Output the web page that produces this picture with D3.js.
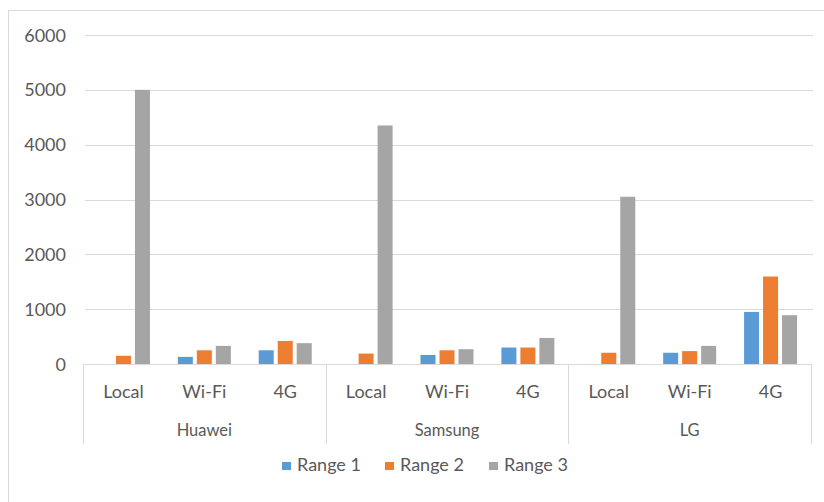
<!DOCTYPE html>
<html>
<head>
<meta charset="utf-8">
<script src="https://cdn.jsdelivr.net/npm/d3@7.9.0/dist/d3.min.js"></script>
<style>
  body { margin: 0; background: #fff; }
  text { font-family: Lato, "Open Sans", sans-serif; fill: #595959; }
</style>
</head>
<body>
<svg id="chart" width="824" height="502"></svg>
<script>
// data
const groups = ['Huawei', 'Samsung', 'LG'];
const modes = ['Local', 'Wi-Fi', '4G'];
const seriesNames = ['Range 1', 'Range 2', 'Range 3'];
const range1 = [0, 130, 250, 0, 165, 300, 0, 205, 950];
const range2 = [150, 250, 420, 190, 250, 300, 205, 235, 1595];
const range3 = [5000, 330, 380, 4350, 270, 475, 3050, 330, 890];
const yTicks = [0, 1000, 2000, 3000, 4000, 5000, 6000];
const colors = ['#5B9BD5', '#ED7D31', '#A5A5A5'];

const svg = d3.select('#chart');

// outer frame (only left/top visible in the crop)
svg.append('rect')
  .attr('x', 8.5).attr('y', 10.5)
  .attr('width', 830).attr('height', 510)
  .attr('fill', 'none').attr('stroke', '#d9d9d9');

const plotLeft = 83, plotRight = 811, plotTop = 35, plotBottom = 364;

const y = d3.scaleLinear().domain([0, 6000]).range([plotBottom, plotTop]);

// 9 slots: group x mode
const slots = groups.flatMap((g) => modes.map((m) => g + '|' + m));
const x = d3.scaleBand().domain(slots).range([plotLeft, plotRight]);
const inner = d3.scaleBand().domain(seriesNames).range([-26.5, 26.5]).paddingInner(0.21);

// gridlines
svg.append('g').selectAll('line')
  .data(yTicks.filter((t) => t > 0))
  .join('line')
  .attr('x1', plotLeft + 2).attr('x2', plotRight + 2)
  .attr('y1', (d) => Math.round(y(d)) + 0.5)
  .attr('y2', (d) => Math.round(y(d)) + 0.5)
  .attr('stroke', '#d9d9d9');

// y labels
svg.append('g').selectAll('text')
  .data(yTicks)
  .join('text')
  .attr('x', 66)
  .attr('y', (d) => y(d) + 6.5)
  .attr('text-anchor', 'end')
  .attr('font-size', 18)
  .text((d) => d);

// bars
const allSeries = [range1, range2, range3];
allSeries.forEach((vals, si) => {
  svg.append('g').selectAll('rect')
    .data(vals)
    .join('rect')
    .attr('x', (d, i) => x(slots[i]) + x.bandwidth() / 2 + inner(seriesNames[si]))
    .attr('width', inner.bandwidth())
    .attr('y', (d) => y(d))
    .attr('height', (d) => plotBottom - y(d))
    .attr('fill', colors[si]);
});

// category axis
const axisColor = '#d9d9d9';
svg.append('line')
  .attr('x1', plotLeft).attr('x2', plotRight)
  .attr('y1', plotBottom + 0.5).attr('y2', plotBottom + 0.5)
  .attr('stroke', axisColor);

const groupEdges = d3.range(groups.length + 1).map((i) => plotLeft + i * 3 * x.step());
svg.append('g').selectAll('line')
  .data(groupEdges)
  .join('line')
  .attr('x1', (d) => Math.round(d) + 0.5).attr('x2', (d) => Math.round(d) + 0.5)
  .attr('y1', plotBottom).attr('y2', 444)
  .attr('stroke', axisColor);

svg.append('g').selectAll('text')
  .data(slots)
  .join('text')
  .attr('x', (d) => x(d) + x.bandwidth() / 2)
  .attr('y', 397.5)
  .attr('text-anchor', 'middle')
  .attr('font-size', 18)
  .text((d) => d.split('|')[1]);

svg.append('g').selectAll('text')
  .data(groups)
  .join('text')
  .attr('x', (d, i) => (groupEdges[i] + groupEdges[i + 1]) / 2)
  .attr('y', 436)
  .attr('text-anchor', 'middle')
  .attr('font-size', 16.5)
  .text((d) => d);

// legend
const legendX = [282, 385, 489];
const legend = svg.append('g').selectAll('g')
  .data(seriesNames)
  .join('g')
  .attr('transform', (d, i) => `translate(${legendX[i]},462)`);
legend.append('rect')
  .attr('width', 9).attr('height', 8)
  .attr('fill', (d, i) => colors[i]);
legend.append('text')
  .attr('x', 15).attr('y', 9)
  .attr('font-size', 18)
  .text((d) => d);
</script>
</body>
</html>
